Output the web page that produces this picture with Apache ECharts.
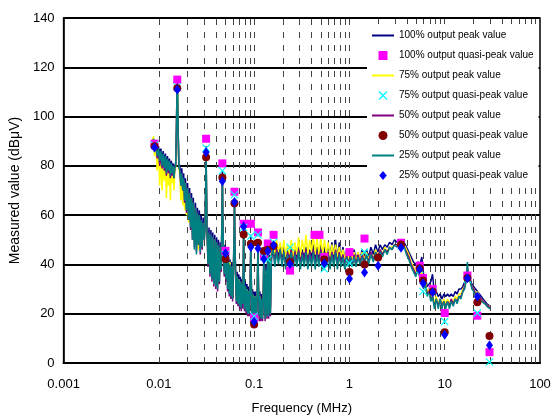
<!DOCTYPE html>
<html>
<head>
<meta charset="utf-8">
<script src="https://cdn.jsdelivr.net/npm/echarts@6/dist/echarts.min.js"></script>
<style>
  html, body { margin: 0; padding: 0; background: #fff; }
  #chart { width: 555px; height: 420px; }
</style>
</head>
<body>
<div id="chart"></div>
<script>
// scan frequencies (MHz) shared by the four peak traces
const pkFreq = [
  0.0085, 0.0088, 0.0090, 0.0093, 0.0096, 0.0099, 0.0102, 0.0105, 0.0108, 0.0111, 0.0114, 0.0117, 0.0120, 0.0123, 0.0126, 0.0129, 0.0132, 0.0135, 0.0138, 0.0141, 0.0144, 0.0147, 0.0150,
  0.0153, 0.0155, 0.0157, 0.0159, 0.0162,
  0.0166, 0.0170, 0.0174, 0.0178, 0.0182, 0.0186, 0.0190, 0.0195, 0.0200, 0.0205, 0.0210, 0.0215, 0.0220, 0.0225, 0.0230, 0.0236, 0.0242, 0.0248, 0.0254, 0.0260, 0.0266, 0.0272, 0.0278, 0.0285, 0.0292, 0.0300, 0.0306,
  0.0310, 0.0313, 0.0316, 0.0320,
  0.0328, 0.0336, 0.0344, 0.0352, 0.0360, 0.0368, 0.0377, 0.0386, 0.0395, 0.0404, 0.0413, 0.0422, 0.0432, 0.0442, 0.0452, 0.0460, 0.0464, 0.0468, 0.0476, 0.0486, 0.0496, 0.0506,
  0.0516, 0.0526, 0.0537, 0.0548, 0.0559, 0.0570, 0.0582, 0.0594, 0.0606, 0.0618, 0.0622, 0.0626, 0.0638, 0.0650, 0.0663, 0.0676, 0.0690, 0.0704, 0.0718, 0.0732,
  0.0746, 0.0760, 0.0772, 0.0776, 0.0780, 0.0792, 0.0808, 0.0824, 0.0840, 0.0856, 0.0872, 0.0888, 0.0904, 0.0918, 0.0923, 0.0928, 0.0944, 0.0962, 0.0980, 0.1000,
  0.1020, 0.1040, 0.1060, 0.1080, 0.1097, 0.1110, 0.1130, 0.1150, 0.1175, 0.1200, 0.1225, 0.1250, 0.1264, 0.1280, 0.1305, 0.1330, 0.1360, 0.1390, 0.1420, 0.1450, 0.1480,
  0.152, 0.158, 0.165, 0.172, 0.180, 0.188, 0.196, 0.205, 0.214, 0.224, 0.234, 0.245, 0.256, 0.268, 0.280, 0.293, 0.306, 0.320, 0.335, 0.350, 0.366, 0.383,
  0.400, 0.418, 0.437, 0.457, 0.478, 0.500, 0.523, 0.547, 0.572, 0.598, 0.625, 0.654, 0.684, 0.715, 0.748, 0.782, 0.818, 0.855, 0.894, 0.935, 0.978,
  1.02, 1.07, 1.12, 1.17, 1.23, 1.29, 1.36, 1.43, 1.51, 1.59, 1.68, 1.78, 1.88, 1.99, 2.10, 2.22, 2.35, 2.49, 2.64, 2.80, 2.97, 3.15, 3.34, 3.54, 3.75, 3.97, 4.20, 4.45, 4.70, 4.97,
  5.25, 5.50, 5.75, 6.00, 6.25, 6.55, 6.85, 7.15, 7.45, 7.80, 8.15, 8.55, 8.95, 9.35, 9.80, 10.25, 10.7, 11.2, 11.7, 12.3, 12.9,
  13.5, 14.1, 14.8, 15.5, 16.2, 16.9, 17.3, 17.7, 18.5, 19.3, 20.2, 21.1, 22.1, 23.1, 24.2, 25.3, 26.5, 27.7, 29.0, 30.0
]

// peak values (dBμV)
const pk100 = [
  89, 91, 88, 90, 86, 88, 84, 87, 82, 86, 80, 85, 79, 84, 79, 83, 78, 82, 78, 81, 77, 80, 81,
  96, 113, 114, 97, 81,
  80, 74, 79, 72, 77, 68, 75, 64, 73, 61, 71, 58, 69, 54, 67, 50, 65, 48, 63, 50, 62, 48, 60, 49, 59, 52, 58,
  72, 88, 71, 56,
  43, 55, 39, 54, 37, 53, 35, 52, 34, 51, 33, 50, 36, 49, 40, 64, 78, 62, 47, 38, 48, 36,
  45, 33, 44, 31, 42, 29, 41, 28, 40, 57, 67, 54, 38, 27, 37, 26, 36, 25, 35, 24,
  34, 26, 47, 56, 46, 24, 33, 23, 32, 22, 31, 22, 30, 44, 52, 42, 22, 30, 21, 29,
  21, 29, 20, 32, 50, 32, 20, 29, 20, 28, 20, 32, 46, 30, 20, 40, 21, 47, 21, 44, 22,
  44, 48, 43, 47, 43, 48, 42, 47, 42, 46, 43, 47, 42, 46, 42, 47, 41, 46, 42, 47, 41, 46,
  42, 48, 41, 47, 42, 48, 41, 47, 43, 48, 42, 49, 43, 50, 42, 49, 42, 47, 41, 46, 42,
  46, 42, 46, 42, 45, 42, 46, 43, 46, 43, 47, 44, 48, 45, 48, 46, 48, 47, 49, 48, 50, 49, 50, 50, 49, 47, 45, 43, 41, 40,
  41, 40, 43, 36, 35, 31, 32, 33, 36, 28, 29, 27, 28, 26, 28, 27, 28, 27, 28, 27, 29,
  28, 30, 30, 31, 33, 35, 38, 36, 34, 32, 31, 30, 30, 28, 27, 26, 25, 24, 24, 23
]
const pk75 = [
  90, 92, 84, 89, 78, 86, 72, 84, 70, 83, 74, 82, 67, 81, 72, 80, 66, 79, 73, 79, 70, 78, 79,
  94, 111, 112, 95, 79,
  76, 66, 76, 64, 74, 62, 72, 60, 70, 57, 68, 56, 66, 52, 64, 49, 62, 50, 60, 46, 59, 47, 57, 48, 56, 51, 55,
  69, 85, 69, 53,
  42, 52, 38, 51, 36, 50, 34, 50, 33, 48, 31, 47, 35, 47, 40, 60, 74, 58, 46, 38, 47, 35,
  44, 32, 42, 30, 41, 28, 39, 27, 38, 54, 63, 51, 36, 26, 35, 25, 34, 24, 33, 23,
  32, 25, 44, 53, 43, 23, 31, 22, 30, 21, 29, 21, 28, 41, 50, 39, 21, 28, 20, 27,
  20, 27, 20, 30, 47, 30, 19, 27, 19, 26, 19, 30, 43, 28, 19, 37, 20, 44, 20, 41, 21,
  46, 49, 44, 50, 45, 49, 44, 50, 43, 48, 44, 50, 43, 49, 44, 51, 43, 50, 45, 52, 44, 50,
  45, 52, 44, 51, 44, 51, 44, 50, 44, 49, 43, 48, 44, 48, 43, 47, 43, 46, 42, 45, 42,
  45, 42, 45, 41, 45, 42, 45, 42, 45, 42, 45, 42, 46, 43, 46, 44, 47, 45, 47, 47, 48, 48, 49, 49, 48, 46, 44, 41, 39, 37,
  39, 36, 37, 32, 33, 29, 30, 27, 28, 24, 27, 24, 26, 24, 26, 24, 26, 24, 26, 25, 27,
  26, 28, 28, 30, 31, 34, 38, 35, 33, 31, 30, 28, 29, 27, 26, 25, 24, 24, 23, 23
]
const pk50 = [
  88, 90, 87, 88, 83, 86, 80, 85, 79, 84, 78, 83, 76, 82, 77, 81, 75, 80, 76, 80, 75, 79, 80,
  95, 112, 112, 95, 80,
  78, 72, 77, 70, 75, 65, 73, 61, 71, 58, 69, 54, 67, 50, 65, 47, 63, 45, 61, 48, 59, 44, 58, 46, 57, 50, 56,
  70, 84, 69, 54,
  39, 53, 35, 52, 33, 51, 31, 50, 30, 49, 29, 48, 32, 47, 37, 62, 75, 60, 45, 35, 46, 33,
  42, 29, 41, 27, 39, 26, 38, 25, 37, 55, 64, 52, 35, 24, 34, 23, 33, 22, 32, 21,
  31, 22, 45, 53, 44, 21, 30, 20, 29, 19, 28, 19, 27, 42, 48, 40, 19, 27, 18, 26,
  18, 26, 18, 29, 47, 29, 17, 26, 17, 25, 17, 29, 43, 27, 17, 36, 18, 43, 18, 40, 19,
  42, 46, 41, 46, 42, 46, 41, 45, 40, 45, 41, 46, 40, 45, 41, 46, 40, 45, 41, 46, 40, 45,
  41, 46, 40, 45, 41, 46, 40, 45, 41, 45, 40, 45, 41, 46, 40, 45, 41, 44, 40, 44, 40,
  44, 40, 44, 40, 44, 41, 44, 41, 44, 41, 45, 42, 45, 43, 46, 44, 46, 45, 47, 46, 48, 48, 49, 48, 47, 45, 43, 40, 38, 36,
  38, 35, 36, 31, 32, 28, 29, 26, 27, 23, 26, 23, 26, 23, 25, 23, 25, 23, 26, 24, 26,
  25, 27, 27, 29, 31, 34, 39, 35, 33, 31, 30, 28, 28, 27, 26, 25, 24, 24, 23, 22
]
const pk25 = [
  88, 91, 86, 89, 84, 87, 82, 86, 80, 85, 79, 84, 77, 83, 78, 82, 76, 81, 77, 80, 75, 79, 80,
  95, 112, 113, 96, 80,
  78, 72, 77, 70, 75, 66, 73, 62, 71, 58, 69, 55, 67, 50, 65, 46, 63, 44, 61, 48, 60, 45, 58, 47, 57, 50, 56,
  70, 86, 70, 54,
  40, 53, 36, 52, 34, 51, 32, 50, 31, 49, 30, 48, 33, 47, 38, 62, 76, 60, 45, 36, 46, 34,
  43, 30, 42, 28, 40, 27, 39, 26, 38, 55, 65, 52, 36, 25, 35, 24, 34, 23, 33, 22,
  32, 24, 45, 54, 44, 22, 31, 21, 30, 20, 29, 20, 28, 42, 50, 40, 20, 28, 19, 27,
  19, 27, 19, 30, 48, 30, 19, 27, 18, 26, 18, 30, 44, 28, 18, 38, 19, 45, 19, 42, 20,
  44, 46, 39, 45, 40, 46, 39, 45, 38, 44, 39, 45, 38, 44, 39, 45, 38, 44, 39, 45, 38, 44,
  39, 45, 38, 44, 39, 45, 38, 44, 39, 44, 38, 44, 39, 45, 38, 44, 39, 43, 38, 43, 39,
  43, 39, 43, 39, 43, 40, 43, 40, 44, 40, 44, 41, 45, 42, 45, 43, 46, 44, 47, 46, 48, 47, 49, 48, 47, 44, 42, 39, 37, 35,
  38, 34, 36, 30, 32, 27, 29, 25, 27, 22, 26, 22, 26, 22, 25, 22, 25, 22, 25, 23, 26,
  24, 27, 26, 29, 30, 34, 41, 35, 33, 30, 29, 27, 28, 26, 25, 25, 24, 23, 23, 22
]

// quasi-peak measurement frequencies (MHz) and readings (dBμV)
const qpFreq = [0.009, 0.0156, 0.0313, 0.0464, 0.05, 0.0621, 0.0776, 0.0923, 0.1, 0.1097, 0.1264, 0.139, 0.16, 0.238,
  0.43, 0.485, 0.545, 1.0, 1.44, 2.0, 3.48, 5.46, 5.92, 7.48, 10, 17.3, 22, 29.5]
const qp100 = [89, 115, 91, 81, 45.5, 69.5, 56.5, 56.5, 18.5, 53, 43.5, 48.5, 52, 37.5,
  52, 52, 43, 45, 50.5, null, 48.8, 39.5, 34.5, 30, 20.3, 35.5, 19.2, 4.4]
const qp75 = [88.5, 112, 87.2, 78, 44, 68.3, 55, 51.5, 19, 52, 43, 42, 49, 47,
  null, null, 38.2, 40.5, 45, null, 47.5, 38, 29, 29, 16.8, 34, 20.3, 0.4]
const qp50 = [88, 111.5, 83.5, 75.3, 42.2, 64.8, 52.1, 48.4, 15.6, 48.8, 45.5, 46, 47.5, 41,
  null, null, 42, 36.9, 40, 42.8, 48.1, 38.5, 33.5, 29, 12.5, 34.5, 24.7, 11]
const qp25 = [87.5, 111, 85.5, 73.8, 44.5, 65.3, 55.4, 47.1, 16.7, 46.5, 42.2, 45.5, 47.8, 40.2,
  null, null, 40.5, 34.2, 36.7, 39.5, 46.8, 38, 32.4, 28.7, 11.5, 34.4, 27, 7.2]

// dashed vertical grid at 2..10 of every decade
const gridFreqs = [0.002, 0.003, 0.004, 0.005, 0.006, 0.007, 0.008, 0.009, 0.01,
  0.02, 0.03, 0.04, 0.05, 0.06, 0.07, 0.08, 0.09, 0.1,
  0.2, 0.3, 0.4, 0.5, 0.6, 0.7, 0.8, 0.9, 1,
  2, 3, 4, 5, 6, 7, 8, 9, 10,
  20, 30, 40, 50, 60, 70, 80, 90]

const FONT = "'Liberation Sans', Arial, sans-serif"
const X_SYM = 'path://M0,1L1,0L5,4L9,0L10,1L6,5L10,9L9,10L5,6L1,10L0,9L4,5Z'
const DIAMOND = 'path://M5,0L10,6L5,12L0,6Z'
const SQUARE = 'path://M0,0H10V10H0Z'
const LINE_ICON = 'path://M0,0H22V2H0Z'

const zip = (xs, ys) => xs.map((x, i) => [x, ys[i]]).filter(d => d[1] != null)

function peakLine(name, color, values) {
    return {
        name: name,
        type: 'line',
        symbol: 'none',
        showSymbol: false,
        z: 2,
        lineStyle: { color: color, width: 1.5 },
        itemStyle: { color: color },
        data: zip(pkFreq, values)
    }
}

function qpPoints(name, color, symbol, size, values, z) {
    return {
        name: name,
        type: 'scatter',
        symbol: symbol,
        symbolSize: size,
        z: z,
        itemStyle: { color: color, opacity: 1 },
        data: zip(qpFreq, values)
    }
}

let chart = echarts.init(document.getElementById('chart'))
let option = {
    animation: false,
    backgroundColor: '#fff',
    textStyle: { fontFamily: FONT },
    grid: {
        left: 54, right: 15, top: 18, bottom: 49,
        show: true, borderColor: '#000', borderWidth: 1.5
    },
    legend: {
        orient: 'vertical',
        left: 367,
        top: 24,
        padding: [6, 5],
        backgroundColor: '#fff',
        itemWidth: 22,
        itemHeight: 9,
        itemGap: 9,
        textStyle: { fontSize: 10, lineHeight: 11, color: '#000', fontFamily: FONT },
        data: [
            { name: '100% output peak value', icon: LINE_ICON },
            { name: '100% output quasi-peak value', icon: SQUARE },
            { name: '75% output peak value', icon: LINE_ICON },
            { name: '75% output quasi-peak value', icon: X_SYM },
            { name: '50% output peak value', icon: LINE_ICON },
            { name: '50% output quasi-peak value', icon: 'circle' },
            { name: '25% output peak value', icon: LINE_ICON },
            { name: '25% output quasi-peak value', icon: DIAMOND }
        ]
    },
    xAxis: {
        type: 'log',
        logBase: 10,
        min: 0.001,
        max: 100,
        name: 'Frequency (MHz)',
        nameLocation: 'middle',
        nameGap: 39,
        nameTextStyle: { fontSize: 13, color: '#000', fontFamily: FONT },
        axisLine: { lineStyle: { color: '#000', width: 2 } },
        axisTick: { show: false },
        axisLabel: {
            fontSize: 13, color: '#000', margin: 15, fontFamily: FONT,
            formatter: v => String(+(+v).toPrecision(6))
        },
        splitLine: { show: false }
    },
    yAxis: {
        type: 'value',
        min: 0,
        max: 140,
        interval: 20,
        name: 'Measured value (dBμV)',
        nameLocation: 'middle',
        nameGap: 32,
        nameTextStyle: { fontSize: 14, color: '#000', fontFamily: FONT },
        axisLine: { show: true, lineStyle: { color: '#000', width: 1.5 } },
        axisTick: { show: false },
        axisLabel: { fontSize: 13, color: '#000', margin: 9, fontFamily: FONT },
        splitLine: { lineStyle: { color: '#000', width: 2 } }
    },
    series: [
        {
            // carries only the dashed vertical grid
            name: 'grid',
            type: 'line',
            data: [],
            markLine: {
                z: 1,
                silent: true,
                symbol: 'none',
                label: { show: false },
                lineStyle: { color: '#444', width: 1, type: [6, 7] },
                data: gridFreqs.map(f => ({ xAxis: f }))
            }
        },
        peakLine('100% output peak value', '#000080', pk100),
        peakLine('75% output peak value', '#FFFF00', pk75),
        peakLine('50% output peak value', '#800080', pk50),
        peakLine('25% output peak value', '#008080', pk25),
        qpPoints('100% output quasi-peak value', '#FF00FF', 'rect', 8, qp100, 6),
        qpPoints('75% output quasi-peak value', '#00FFFF', X_SYM, 8, qp75, 7),
        qpPoints('50% output quasi-peak value', '#800000', 'circle', 8, qp50, 8),
        qpPoints('25% output quasi-peak value', '#0000FF', DIAMOND, [7, 10], qp25, 9)
    ]
}
chart.setOption(option)
</script>
</body>
</html>
